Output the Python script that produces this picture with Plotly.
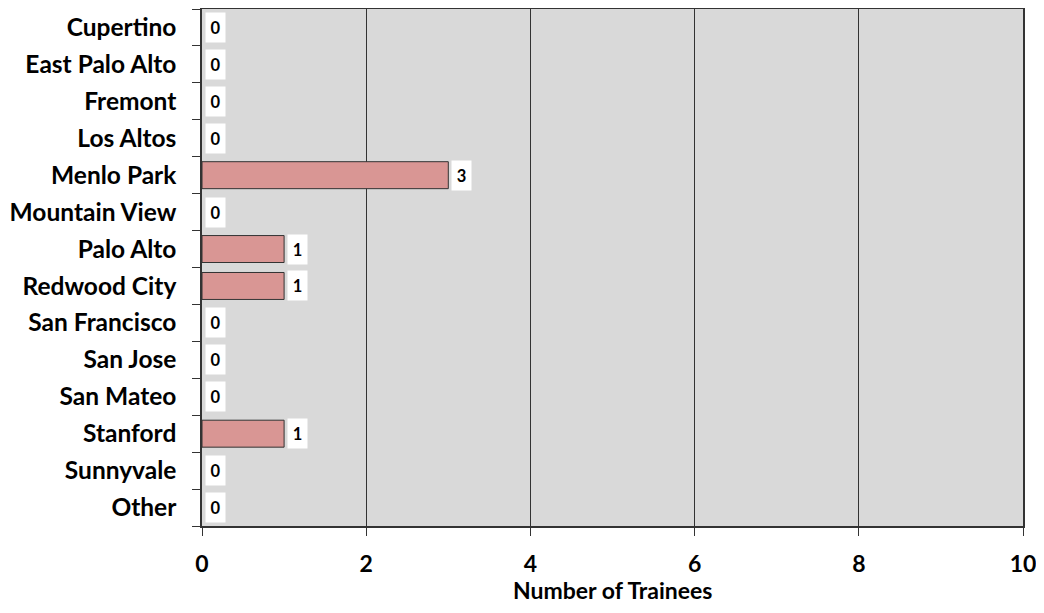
import plotly.graph_objects as go

categories = ["Cupertino", "East Palo Alto", "Fremont", "Los Altos", "Menlo Park",
              "Mountain View", "Palo Alto", "Redwood City", "San Francisco",
              "San Jose", "San Mateo", "Stanford", "Sunnyvale", "Other"]
trainees = [0, 0, 0, 0, 3, 0, 1, 1, 0, 0, 0, 1, 0, 0]
x_ticks = [0, 2, 4, 6, 8, 10]
x_title = "Number of Trainees"

FONT = "Lato"
LINE = "#333333"

fig = go.Figure()
fig.add_trace(go.Bar(
    y=categories, x=trainees, orientation="h",
    marker=dict(color="#d99694",
                line=dict(color=LINE, width=[1 if v > 0 else 0 for v in trainees])),
    hoverinfo="skip",
))

for c, v in zip(categories, trainees):
    fig.add_annotation(
        x=v, y=c, xref="x", yref="y", text=f"<b>{v}</b>", showarrow=False,
        xanchor="left", xshift=3, bgcolor="white", width=17, height=27,
        font=dict(family=FONT, size=16.5, color="black"),
    )

# x-axis title as a paper annotation (axis automargin is off)
fig.add_annotation(
    x=0.5, y=0, xref="paper", yref="paper", text=f"<b>{x_title}</b>",
    showarrow=False, xanchor="center", yanchor="middle", yshift=-64,
    font=dict(family=FONT, size=23, color="black"),
)

# page body has an 8px margin: figure is sized/offset to compensate
fig.update_layout(
    width=1028, height=597,
    margin=dict(l=194, r=13, t=1, b=79),
    paper_bgcolor="white", plot_bgcolor="#d9d9d9",
    bargap=0.27, showlegend=False,
    font=dict(family=FONT, color="black"),
)
fig.update_xaxes(
    range=[0, 10], tickvals=x_ticks, ticktext=[f"<b>{t}</b>" for t in x_ticks],
    tickfont=dict(size=23, family=FONT), ticks="outside", ticklen=8,
    tickcolor=LINE, showgrid=True, gridcolor=LINE, gridwidth=1,
    showline=True, linecolor=LINE, linewidth=1.5, mirror=True,
    zeroline=False, ticklabelstandoff=9, ticklabeloverflow="allow",
    automargin=False,
)
fig.update_yaxes(
    autorange="reversed", ticks="outside", ticklen=8, tickson="boundaries",
    tickcolor=LINE, tickfont=dict(size=24.5, family=FONT),
    tickvals=categories, ticktext=[f"<b>{c}</b>" for c in categories],
    showline=True, linecolor=LINE, linewidth=1.5, mirror=True,
    showgrid=False, ticklabelstandoff=19, automargin=False,
)

fig.write_html("out.html")
